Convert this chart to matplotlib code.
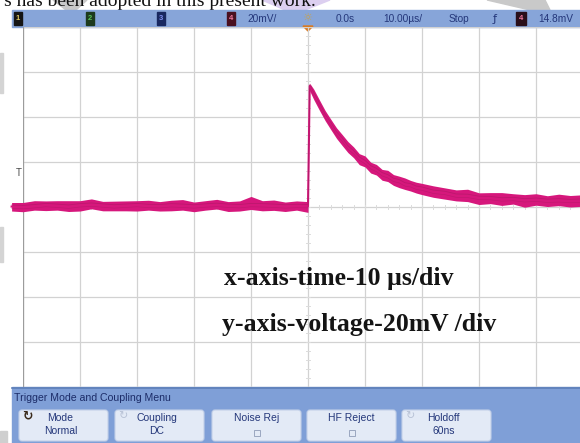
import matplotlib.pyplot as plt
from matplotlib.patches import Rectangle, FancyBboxPatch, Polygon
import numpy as np

# Scope settings
x_per_div = 10      # us / div
y_per_div = 20      # mV / div
n_xdiv = 10
n_ydiv = 8

# Channel 4 trace, pre-trigger baseline (us, mV)
pre_t = [-52, -50, -48, -46, -44, -42, -40, -38, -36, -34, -32, -30, -28, -26,
         -24, -22, -20, -18, -16, -14, -12, -10, -8, -6, -4, -2, 0]
pre_v = [0.2, 0.0, 0.4, 0.9, 0.6, 0.2, 0.8, 1.1, 0.7, 0.3, 0.6, 0.9, 0.5, 0.4,
         0.8, 0.6, 0.3, 0.7, 1.0, 0.6, 0.4, 0.9, 0.8, 0.6, 0.3, 0.5, 0.4]
pre_hi = [1.8, 2.0, 2.4, 1.8, 2.2, 2.6, 2.0, 2.5, 1.8, 2.3, 2.1, 1.9, 2.5, 2.0,
          2.2, 2.7, 1.9, 2.1, 2.4, 1.8, 2.3, 3.8, 2.0, 2.5, 1.9, 2.2, 2.0]
pre_lo = [2.0, 2.1, 1.8, 2.5, 2.0, 2.2, 2.6, 1.9, 2.4, 2.0, 2.3, 2.7, 1.9, 2.2,
          2.5, 2.0, 2.4, 2.1, 1.9, 2.6, 2.2, 2.0, 2.5, 2.1, 2.3, 1.9, 2.8]

# Channel 4 trace, after the trigger
post_t = [0.3, 1, 2, 3, 4, 5, 6, 7, 8, 9, 10, 11, 12, 13, 14, 15, 16, 17, 18,
          19, 20, 22, 24, 26, 28, 30, 32, 34, 36, 38, 40, 42, 44, 46, 48]
post_v = [53.8, 50.2, 45.6, 40.5, 36.9, 32.7, 30.0, 26.5, 24.4, 21.6, 20.0,
          17.7, 16.5, 14.6, 13.7, 12.1, 11.5, 10.1, 9.7, 8.6, 8.2, 6.8, 6.3,
          5.1, 5.0, 4.1, 4.0, 3.4, 3.6, 3.0, 3.3, 2.8, 3.0, 2.7, 2.9]
post_hi = [1.2, 2.2, 2.0, 2.4, 2.1, 2.5, 2.2, 2.6, 2.3, 2.1, 2.7, 2.2, 2.4,
           2.1, 2.6, 2.3, 2.2, 2.8, 2.1, 2.4, 2.3, 2.6, 2.2, 2.5, 2.9, 2.2,
           2.4, 3.0, 2.3, 2.5, 2.6, 2.2, 2.7, 2.4, 2.5]
post_lo = [2.2, 2.4, 2.6, 2.1, 2.5, 2.2, 2.7, 2.3, 2.5, 2.8, 2.2, 2.6, 2.3,
           2.7, 2.4, 2.5, 2.9, 2.3, 2.6, 2.4, 2.7, 2.5, 2.8, 2.4, 2.6, 3.0,
           2.5, 2.7, 2.3, 3.1, 2.5, 2.6, 2.4, 2.7, 2.6]

trig_level = 14.8   # mV

menu_buttons = [("Mode\nNormal", True), ("Coupling\nDC", True),
                ("Noise Rej", False), ("HF Reject", False),
                ("Holdoff\n60ns", True)]

bar_blue = '#87a5d9'
ui_text = '#24377a'
trace_col = '#d6177c'
grid_col = '#d2d2d2'
ui_font = 'Liberation Sans'
W, H = 580, 443

fig = plt.figure(figsize=(5.8, 4.43), dpi=100)

# pixel-space layer for the scope chrome
bg = fig.add_axes([0, 0, 1, 1])
bg.set_xlim(0, W)
bg.set_ylim(H, 0)
bg.axis('off')

# scraps of the page around the screen
bg.text(4, 5.5, "s has been adopted in this present work.", family='Liberation Serif',
        fontsize=14, va='baseline', ha='left', color='#111111', zorder=1)
bg.add_patch(Polygon([(53, 0), (87, 0), (76, 10), (66, 10)], color='#c9c9c9', zorder=0))
bg.add_patch(Polygon([(262, 0), (330, 0), (305, 10), (285, 10)], color='#dccff0', zorder=0))
bg.add_patch(Polygon([(487, 0), (545, 0), (550, 10), (530, 10)], color='#c9c9c9', zorder=0))
bg.add_patch(Rectangle((0, 53), 3, 40, color='#d4d4d4'))
bg.add_patch(Rectangle((0, 227), 3, 35, color='#d4d4d4'))
bg.add_patch(Rectangle((0, 431), 7, 12, color='#cfcfcf'))

# status bar on top
bg.add_patch(Rectangle((12, 10), 570, 17, color=bar_blue, zorder=2))
chan_boxes = [(14, '1', '#151515', '#e0c860'), (86, '2', '#1d3a1d', '#58c058'),
              (157, '3', '#182860', '#7f8ff0'), (227, '4', '#4a1020', '#f07aa0')]
for x0, lab, fc, tc in chan_boxes:
    bg.add_patch(Rectangle((x0, 12), 8, 13, color=fc, zorder=3))
    bg.text(x0 + 4, 18.5, lab, color=tc, fontsize=5.5, ha='center', va='center',
            family=ui_font, weight='bold', zorder=4)
bar_items = [(247, "20mV/"), (336, "0.0s"), (383, "10.00\u00b5s/"), (449, "Stop"),
             (538, "14.8mV")]
for x0, s in bar_items:
    bg.text(x0, 18.5, s, color=ui_text, fontsize=7.3, ha='left', va='center',
            family=ui_font, zorder=4)
bg.text(495, 18.5, "\u0192", color=ui_text, fontsize=8, ha='center', va='center', zorder=4)
bg.add_patch(Rectangle((516, 12), 10, 13, color='#2a0f1a', zorder=3))
bg.text(521, 18.5, '4', color='#f07aa0', fontsize=5.5, ha='center', va='center',
        family=ui_font, weight='bold', zorder=4)
bg.text(307, 18, "\u263c", color='#c9a24a', fontsize=8, ha='center', va='center',
        family='DejaVu Sans', zorder=4)
bg.add_patch(Polygon([(303, 26), (313, 26), (308, 31)], color='#d97a22', zorder=5))

# softkey menu at the bottom
bg.add_patch(Rectangle((12, 387), 570, 56, color='#7f9fd7', zorder=2))
bg.plot([12, W], [387.5, 387.5], color='#5d7fb8', lw=1.2, zorder=3)
bg.text(14, 398, "Trigger Mode and Coupling Menu", color='#1c2c68', fontsize=7.6,
        family=ui_font, ha='left', va='center', zorder=4)
btn_x = [19, 115, 212, 307, 402]
btn_w = 89
for (label, has_icon), x0 in zip(menu_buttons, btn_x):
    bg.add_patch(FancyBboxPatch((x0, 410), btn_w, 31, boxstyle='round,pad=0,rounding_size=3',
                                fc='#e3eaf6', ec='#c3d0e8', lw=0.8, zorder=3))
    lines = label.split('\n')
    cx = x0 + btn_w / 2 + (-3 if has_icon else 0)
    bg.text(cx, 418, lines[0], color=ui_text, fontsize=7.5, family=ui_font,
            ha='center', va='center', zorder=4)
    if len(lines) == 2:
        bg.text(cx, 431, lines[1], color=ui_text, fontsize=7.5, family=ui_font,
                ha='center', va='center', zorder=4)
    else:
        # small check box under the label
        bg.add_patch(Rectangle((cx - 3, 430), 6, 6, fc='none', ec='#9aa6c0', lw=0.7, zorder=4))
bg.text(27, 416, "\u21bb", color='#3a2a1a', fontsize=9, weight='bold', ha='center',
        va='center', family='DejaVu Sans', zorder=5)
for x0 in (btn_x[1], btn_x[4]):
    bg.text(x0 + 8, 416, "\u21bb", color='#b8c2d6', fontsize=8, ha='center',
            va='center', family='DejaVu Sans', zorder=5)

# graticule and trace
left_px, right_px, top_px, bot_px = 23, 593, 27, 387
ax = fig.add_axes([left_px / W, (H - bot_px) / H,
                   (right_px - left_px) / W, (bot_px - top_px) / H])
ax.patch.set_alpha(0)
half_x = n_xdiv * x_per_div / 2
half_y = n_ydiv * y_per_div / 2
ax.set_xlim(-half_x, half_x)
ax.set_ylim(-half_y, half_y)
for x in range(-int(half_x), int(half_x) + 1, x_per_div):
    ax.axvline(x, color=grid_col, lw=0.9, zorder=1)
for y in range(-int(half_y), int(half_y) + 1, y_per_div):
    ax.axhline(y, color=grid_col, lw=0.9, zorder=1)
ax.axvline(-half_x, color='#9c9c9c', lw=1.6, zorder=2)
# fine marks along the centre lines
for x in np.arange(-half_x, half_x, x_per_div / 5):
    ax.plot([x, x], [-0.8, 0.8], color='#dcdcdc', lw=0.7, zorder=1)
for y in np.arange(-half_y, half_y, y_per_div / 5):
    ax.plot([-0.35, 0.35], [y, y], color='#dcdcdc', lw=0.7, zorder=1)
ax.set_xticks([])
ax.set_yticks([])
for sp in ax.spines.values():
    sp.set_visible(False)

t = pre_t + post_t
v = np.array(pre_v + post_v)
hi = np.array(pre_hi + post_hi)
lo = np.array(pre_lo + post_lo)
ax.fill_between(t, v - lo, v + hi, color=trace_col, lw=0, zorder=3, clip_on=False)
ax.plot(t, v, color=trace_col, lw=1.5, zorder=3, clip_on=False)
ax.plot(t, v + 0.7, color='#a3175f', lw=0.6, alpha=0.5, zorder=4, clip_on=False)
ax.plot(t, v - 0.8, color='#a3175f', lw=0.5, alpha=0.4, zorder=4, clip_on=False)

# side markers: trigger level and channel ground
bg.text(19, 173, "T", color='#4a4a4a', fontsize=7, ha='center', va='center',
        family=ui_font, zorder=5)
bg.text(16, 208, "4", color='#c02a70', fontsize=4.5, ha='center', va='center',
        family=ui_font, zorder=5)

# scale notes, drawn at figure level so they sit above the graticule
fig.text(224 / W, 1 - 279 / H, "x-axis-time-10 \u00b5s/div", family='Liberation Serif',
         weight='bold', fontsize=18.5, color='#141414', ha='left', va='center', zorder=10)
fig.text(222 / W, 1 - 324 / H, "y-axis-voltage-20mV /div", family='Liberation Serif',
         weight='bold', fontsize=18.5, color='#141414', ha='left', va='center', zorder=10)

fig.savefig('out.png', dpi=100)
